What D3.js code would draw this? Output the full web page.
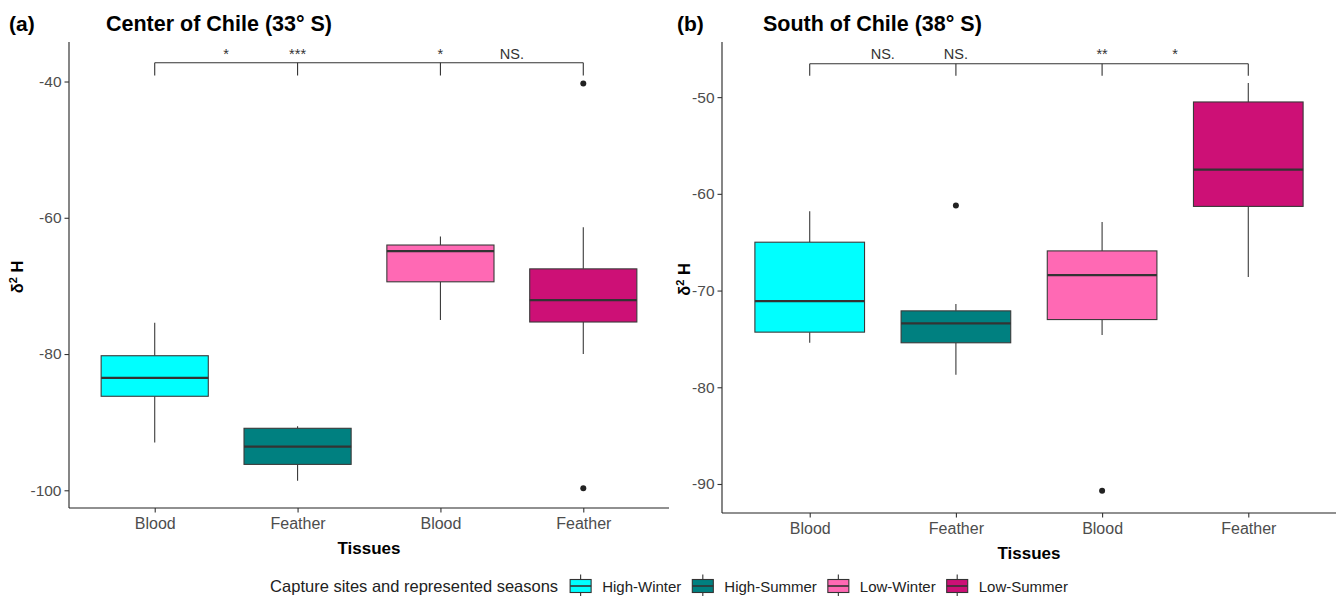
<!DOCTYPE html>
<html>
<head>
<meta charset="utf-8">
<script src="https://cdn.jsdelivr.net/npm/d3@7"></script>
<style>
  html, body { margin: 0; padding: 0; background: #fff; }
  svg { display: block; font-family: "Liberation Sans", Arial, sans-serif; }
</style>
</head>
<body>
<svg id="chart" width="1338" height="596"></svg>
<script>
// Tissue categories along the x axis and the four capture-site/season groups
const tissues = ["Blood", "Feather", "Blood", "Feather"];
const groups = ["High-Winter", "High-Summer", "Low-Winter", "Low-Summer"];
const groupColors = ["#00FFFF", "#008080", "#FF69B4", "#CD1076"];

// Center of Chile (33° S): box statistics per group (δ²H, ‰)
const centerWhiskerLow  = [-93.0, -98.6, -75.0, -80.0];
const centerQ1          = [-86.2, -96.2, -69.4, -75.3];
const centerMedian      = [-83.5, -93.6, -64.9, -72.1];
const centerQ3          = [-80.25, -90.9, -64.0, -67.5];
const centerWhiskerHigh = [-75.4, -90.6, -62.75, -61.4];
const centerOutliers    = [[], [], [], [-40.3, -99.7]];
const centerTicks       = [-40, -60, -80, -100];
const centerYDomain     = [-102.6, -34.2];
const centerSigLabels   = ["*", "***", "*", "NS."];
const centerBracket     = [-37.25, -39.1];

// South of Chile (38° S)
const southWhiskerLow  = [-75.4, -78.7, -74.6, -68.6];
const southQ1          = [-74.3, -75.4, -73.0, -61.3];
const southMedian      = [-71.1, -73.4, -68.4, -57.5];
const southQ3          = [-65.0, -72.1, -65.9, -50.5];
const southWhiskerHigh = [-61.8, -71.4, -62.9, -48.55];
const southOutliers    = [[], [-61.2], [-90.7], []];
const southTicks       = [-50, -60, -70, -80, -90];
const southYDomain     = [-93.0, -44.3];
const southSigLabels   = ["NS.", "NS.", "**", "*"];
const southBracket     = [-46.55, -47.8];

// positions of the significance labels, in category units (1 = first box)
const sigPositions = [1.5, 2, 3, 3.5];

const svg = d3.select("#chart");

function drawPanel(cfg) {
  const g = svg.append("g");
  const idx = d3.range(tissues.length);
  const x = d3.scalePoint().domain(idx).range([cfg.left, cfg.right]).padding(0.6);
  const step = x.step();
  const y = d3.scaleLinear().domain(cfg.yDomain).range([cfg.bottom, cfg.top]);
  const boxW = step * 0.75;
  const xAt = p => x(0) + (p - 1) * step;

  const rows = idx.map(i => ({
    i, lo: cfg.wLow[i], q1: cfg.q1[i], med: cfg.med[i], q3: cfg.q3[i], hi: cfg.wHigh[i],
    out: cfg.outliers[i], color: groupColors[i]
  }));

  // whiskers
  const wk = g.append("g").attr("stroke", "#3a3a3a").attr("stroke-width", 1.1);
  rows.forEach(r => {
    wk.append("line").attr("x1", x(r.i)).attr("x2", x(r.i)).attr("y1", y(r.q3)).attr("y2", y(r.hi));
    wk.append("line").attr("x1", x(r.i)).attr("x2", x(r.i)).attr("y1", y(r.q1)).attr("y2", y(r.lo));
  });

  // boxes
  g.append("g").selectAll("rect").data(rows).join("rect")
    .attr("x", d => x(d.i) - boxW / 2)
    .attr("width", boxW)
    .attr("y", d => y(d.q3))
    .attr("height", d => y(d.q1) - y(d.q3))
    .attr("fill", d => d.color)
    .attr("stroke", "#3a3a3a")
    .attr("stroke-width", 1.1);

  // medians
  g.append("g").selectAll("line").data(rows).join("line")
    .attr("x1", d => x(d.i) - boxW / 2)
    .attr("x2", d => x(d.i) + boxW / 2)
    .attr("y1", d => y(d.med))
    .attr("y2", d => y(d.med))
    .attr("stroke", "#333")
    .attr("stroke-width", 2.2);

  // outliers
  const outs = rows.flatMap(r => r.out.map(v => ({ i: r.i, v })));
  g.append("g").selectAll("circle").data(outs).join("circle")
    .attr("cx", d => x(d.i))
    .attr("cy", d => y(d.v))
    .attr("r", 3)
    .attr("fill", "#222");

  // comparison bracket
  const br = g.append("g").attr("stroke", "#333").attr("stroke-width", 1.1).attr("fill", "none");
  br.append("line").attr("x1", x(0)).attr("x2", x(idx.length - 1))
    .attr("y1", y(cfg.bracket[0])).attr("y2", y(cfg.bracket[0]));
  idx.forEach(i => {
    br.append("line").attr("x1", x(i)).attr("x2", x(i))
      .attr("y1", y(cfg.bracket[0])).attr("y2", y(cfg.bracket[1]));
  });
  g.append("g").selectAll("text").data(cfg.sig).join("text")
    .attr("x", (d, k) => xAt(sigPositions[k]))
    .attr("y", cfg.sigBaseline)
    .attr("text-anchor", "middle")
    .attr("font-size", 14.5)
    .attr("fill", "#333")
    .text(d => d);

  // axes
  const yAxis = g.append("g").attr("transform", `translate(${cfg.left},0)`)
    .call(d3.axisLeft(y).tickValues(cfg.ticks).tickSize(4.5).tickPadding(3).tickFormat(d3.format("d")));
  yAxis.select(".domain").attr("d", `M0,${cfg.top}V${cfg.bottom}`).attr("stroke", "#222").attr("stroke-width", 1.1);
  yAxis.selectAll(".tick line").attr("stroke", "#333").attr("stroke-width", 1.1);
  yAxis.selectAll(".tick text").attr("font-size", 15.5).attr("fill", "#4D4D4D")
    .attr("font-family", "Liberation Sans, Arial, sans-serif")
    .text(d => String(d).replace("\u2212", "-"));

  const xAxis = g.append("g").attr("transform", `translate(0,${cfg.bottom})`)
    .call(d3.axisBottom(x).tickSize(4.5).tickPadding(5).tickFormat(i => tissues[i]));
  xAxis.select(".domain").attr("d", `M${cfg.left},0H${cfg.right}`).attr("stroke", "#222").attr("stroke-width", 1.1);
  xAxis.selectAll(".tick line").attr("stroke", "#333").attr("stroke-width", 1.1);
  xAxis.selectAll(".tick text").attr("font-size", 16).attr("fill", "#4D4D4D")
    .attr("font-family", "Liberation Sans, Arial, sans-serif");

  // axis titles
  g.append("text")
    .attr("x", (cfg.left + cfg.right) / 2)
    .attr("y", cfg.bottom + 46)
    .attr("text-anchor", "middle")
    .attr("font-size", 17)
    .attr("font-weight", "bold")
    .text("Tissues");

  const yt = g.append("text")
    .attr("transform", `translate(${cfg.yTitleX},${(cfg.top + cfg.bottom) / 2 + 2}) rotate(-90)`)
    .attr("text-anchor", "middle")
    .attr("font-size", 16.5)
    .attr("font-weight", "bold");
  yt.append("tspan").text("δ");
  yt.append("tspan").attr("font-size", 11).attr("dy", -6).text("2");
  yt.append("tspan").attr("dy", 6).text(" H");

  // tag and title
  g.append("text").attr("x", cfg.tagX).attr("y", 31)
    .attr("font-size", 21).attr("font-weight", "bold").text(cfg.tag);
  g.append("text").attr("x", cfg.titleX).attr("y", 31)
    .attr("font-size", 21.5).attr("font-weight", "bold").text(cfg.title);
}

drawPanel({
  left: 69, right: 669, top: 42, bottom: 508,
  yDomain: centerYDomain, ticks: centerTicks,
  wLow: centerWhiskerLow, q1: centerQ1, med: centerMedian, q3: centerQ3, wHigh: centerWhiskerHigh,
  outliers: centerOutliers, sig: centerSigLabels, bracket: centerBracket, sigBaseline: 59,
  yTitleX: 23, tag: "(a)", tagX: 9, title: "Center of Chile (33° S)", titleX: 106
});

drawPanel({
  left: 722, right: 1336, top: 42, bottom: 513,
  yDomain: southYDomain, ticks: southTicks,
  wLow: southWhiskerLow, q1: southQ1, med: southMedian, q3: southQ3, wHigh: southWhiskerHigh,
  outliers: southOutliers, sig: southSigLabels, bracket: southBracket, sigBaseline: 59,
  yTitleX: 690, tag: "(b)", tagX: 677, title: "South of Chile (38° S)", titleX: 763
});

// legend
const legend = svg.append("g");
const legendY = 586;
const keyW = 21, keyH = 13;
const title = legend.append("text").attr("x", 0).attr("y", legendY + 6)
  .attr("font-size", 16.5).attr("fill", "#222").text("Capture sites and represented seasons");
let cursor = title.node().getComputedTextLength() + 12;
groups.forEach((name, i) => {
  const k = legend.append("g").attr("transform", `translate(${cursor},${legendY})`);
  k.append("line").attr("x1", keyW / 2).attr("x2", keyW / 2).attr("y1", -keyH / 2 - 5).attr("y2", keyH / 2 + 5)
    .attr("stroke", "#333").attr("stroke-width", 1.1);
  k.append("rect").attr("x", 0).attr("y", -keyH / 2).attr("width", keyW).attr("height", keyH)
    .attr("fill", groupColors[i]).attr("stroke", "#333").attr("stroke-width", 1.1);
  k.append("line").attr("x1", 0).attr("x2", keyW).attr("y1", 0).attr("y2", 0)
    .attr("stroke", "#333").attr("stroke-width", 1.6);
  const t = legend.append("text").attr("x", cursor + keyW + 11).attr("y", legendY + 5.5)
    .attr("font-size", 15).attr("fill", "#222").text(name);
  cursor += keyW + 11 + t.node().getComputedTextLength() + 11;
});
const legendWidth = cursor - 11;
legend.attr("transform", `translate(${669 - legendWidth / 2},0)`);
</script>
</body>
</html>
